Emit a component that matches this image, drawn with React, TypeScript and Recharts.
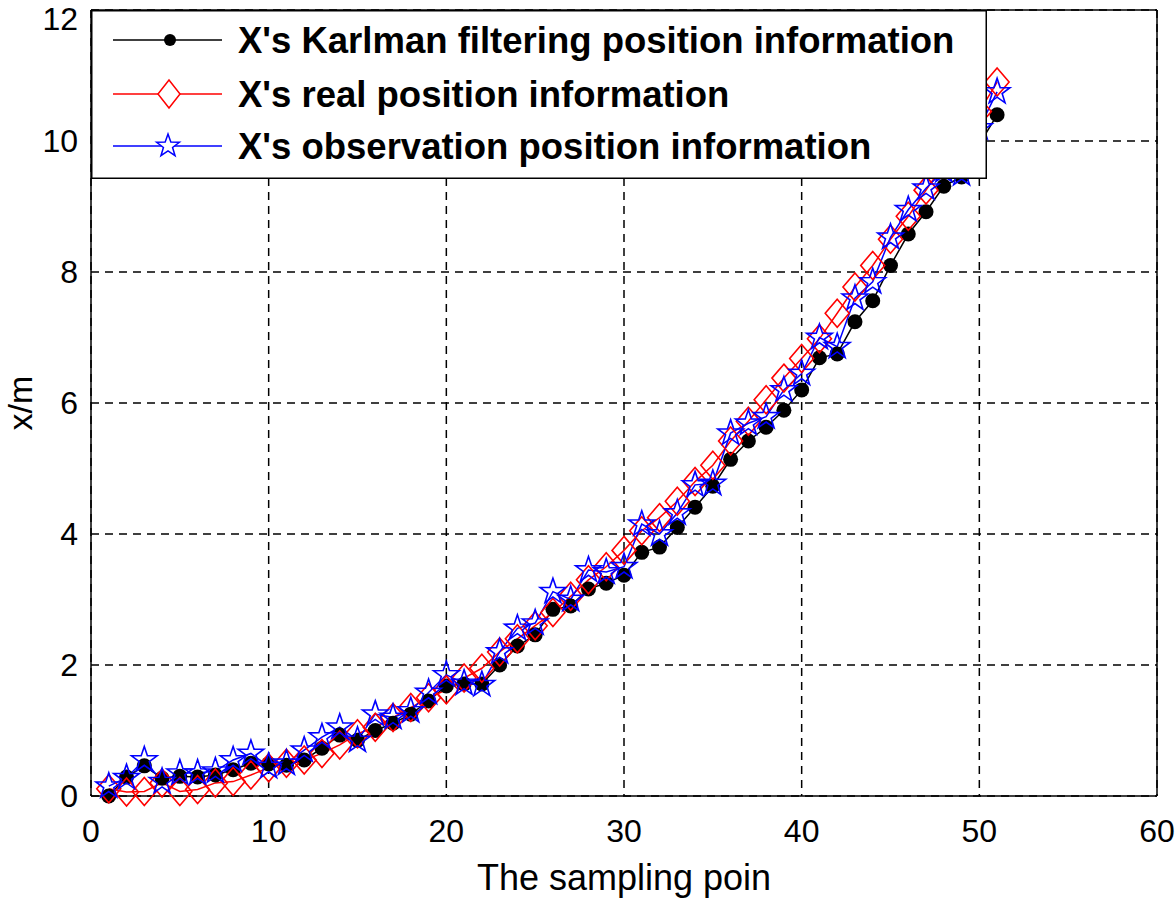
import { LineChart, Line, XAxis, YAxis, CartesianGrid, ReferenceLine, Legend } from "recharts"

const FONT = '"Liberation Sans", Arial, Helvetica, sans-serif'

// sampling points
const samples = [
  1, 2, 3, 4, 5, 6, 7, 8, 9, 10, 11, 12, 13, 14, 15, 16, 17, 18, 19, 20, 21, 22, 23, 24, 25, 26,
  27, 28, 29, 30, 31, 32, 33, 34, 35, 36, 37, 38, 39, 40, 41, 42, 43, 44, 45, 46, 47, 48, 49, 50, 51,
]

const kalman = [
  0.0, 0.29, 0.46, 0.27, 0.3, 0.29, 0.32, 0.4, 0.5, 0.49, 0.47, 0.55, 0.73, 0.93, 0.85, 1.0, 1.11,
  1.25, 1.45, 1.68, 1.71, 1.71, 2.0, 2.29, 2.46, 2.85, 2.9, 3.16, 3.25, 3.37, 3.72, 3.8, 4.1, 4.41,
  4.73, 5.14, 5.42, 5.63, 5.89, 6.2, 6.69, 6.75, 7.24, 7.56, 8.1, 8.58, 8.92, 9.31, 9.45, 9.95, 10.4,
]

const real = [
  0.11, 0.06, 0.07, 0.2, 0.07, 0.1, 0.2, 0.22, 0.32, 0.43, 0.5, 0.55, 0.65, 0.78, 0.95, 1.05, 1.2,
  1.35, 1.5, 1.62, 1.8, 1.95, 2.2, 2.4, 2.6, 2.8, 3.05, 3.3, 3.5, 3.75, 4.05, 4.25, 4.5, 4.8, 5.05,
  5.42, 5.72, 6.05, 6.38, 6.68, 6.98, 7.37, 7.77, 8.1, 8.5, 8.85, 9.25, 9.65, 10.05, 10.45, 10.9,
]

const observed = [
  0.15, 0.28, 0.55, 0.22, 0.35, 0.35, 0.38, 0.55, 0.65, 0.45, 0.5, 0.7, 0.9, 1.05, 0.85, 1.25, 1.2,
  1.3, 1.58, 1.85, 1.72, 1.7, 2.2, 2.56, 2.64, 3.12, 3.0, 3.45, 3.42, 3.5, 4.15, 4.0, 4.32, 4.75,
  4.77, 5.54, 5.69, 5.79, 6.2, 6.45, 7.0, 6.86, 7.6, 7.85, 8.53, 8.95, 9.28, 9.55, 9.5, 10.2, 10.75,
]

const xTicks = [0, 10, 20, 30, 40, 50, 60]
const yTicks = [0, 2, 4, 6, 8, 10, 12]

const seriesNames = [
  "X's Karlman filtering position information",
  "X's real position information",
  "X's observation position information",
]

const rows = samples.map((s, i) => ({
  s,
  kalman: kalman[i],
  real: real[i],
  observed: observed[i],
}))

function starPath(cx: number, cy: number, R: number, r: number) {
  let d = ""
  for (let k = 0; k < 10; k++) {
    const rad = k % 2 === 0 ? R : r
    const a = -Math.PI / 2 + (k * Math.PI) / 5
    d += (k === 0 ? "M" : "L") + (cx + rad * Math.cos(a)).toFixed(2) + "," + (cy + rad * Math.sin(a)).toFixed(2)
  }
  return d + "Z"
}

function diamondPath(cx: number, cy: number, w: number, h: number) {
  return `M${cx},${cy - h}L${cx + w},${cy}L${cx},${cy + h}L${cx - w},${cy}Z`
}

const circleDot = (p: any) => <circle key={`k-${p.index}`} cx={p.cx} cy={p.cy} r={7.5} fill="#000" />
const diamondDot = (p: any) => (
  <path key={`r-${p.index}`} d={diamondPath(p.cx, p.cy, 12, 14)} fill="none" stroke="#ff0000" strokeWidth={1.6} />
)
const starDot = (p: any) => (
  <path key={`o-${p.index}`} d={starPath(p.cx, p.cy, 13.5, 5.3)} fill="none" stroke="#0000ff" strokeWidth={1.6} />
)

function LegendBox() {
  const ys = [30, 84, 136]
  const colors = ["#000", "#ff0000", "#0000ff"]
  return (
    <svg width={896} height={169} style={{ display: "block" }}>
      <rect x={0.75} y={0.75} width={894.5} height={167.5} fill="#fff" stroke="#000" strokeWidth={1.5} />
      {ys.map((y, i) => (
        <g key={i}>
          <line x1={22} x2={131} y1={y} y2={y} stroke={colors[i]} strokeWidth={1.5} />
          {i === 0 && <circle cx={79} cy={y} r={6} fill="#000" />}
          {i === 1 && <path d={diamondPath(78, y, 11, 14)} fill="#fff" stroke="#ff0000" strokeWidth={1.5} />}
          {i === 2 && <path d={starPath(77, y, 12, 4.8)} fill="#fff" stroke="#0000ff" strokeWidth={1.5} />}
          <text x={147} y={y + 13} fontFamily={FONT} fontWeight="bold" fontSize={36.5} fill="#000">
            {seriesNames[i]}
          </text>
        </g>
      ))}
    </svg>
  )
}

export default function App() {
  const tickStyle = { fill: "#000", fontSize: 32, fontFamily: FONT }
  return (
    <div style={{ position: "absolute", left: 0, top: 0, background: "#fff" }}>
      <LineChart width={1176} height={899} data={rows} margin={{ top: 10, right: 19, left: 0, bottom: 0 }}>
        <CartesianGrid stroke="#000" strokeDasharray="8 6" strokeWidth={1.5} />
        <XAxis
          dataKey="s"
          type="number"
          domain={[0, 60]}
          ticks={xTicks}
          height={103}
          tick={tickStyle}
          tickLine={false}
          tickMargin={17}
          axisLine={{ stroke: "#000", strokeWidth: 1.5 }}
          label={{ value: "The sampling poin", position: "insideBottom", offset: 9, fill: "#000", fontSize: 36, fontFamily: FONT }}
        />
        <YAxis
          type="number"
          domain={[0, 12]}
          ticks={yTicks}
          width={91}
          tick={tickStyle}
          tickLine={false}
          tickMargin={7}
          axisLine={{ stroke: "#000", strokeWidth: 1.5 }}
          label={{
            value: "x/m",
            angle: -90,
            position: "insideLeft",
            offset: 20,
            fill: "#000",
            fontSize: 34,
            fontFamily: FONT,
            style: { textAnchor: "middle" },
          }}
        />
        <ReferenceLine y={12} stroke="#000" strokeWidth={1.5} />
        <ReferenceLine x={60} stroke="#000" strokeWidth={1.5} />
        <Line dataKey="kalman" stroke="#000" strokeWidth={1.5} dot={circleDot} isAnimationActive={false} />
        <Line dataKey="real" stroke="#ff0000" strokeWidth={1.5} dot={diamondDot} isAnimationActive={false} />
        <Line dataKey="observed" stroke="#0000ff" strokeWidth={1.5} dot={starDot} isAnimationActive={false} />
        <Legend
          layout="vertical"
          align="center"
          verticalAlign="middle"
          content={() => <LegendBox />}
          wrapperStyle={{ left: 91, top: 10, width: 896, height: 169 }}
        />
      </LineChart>
    </div>
  )
}
